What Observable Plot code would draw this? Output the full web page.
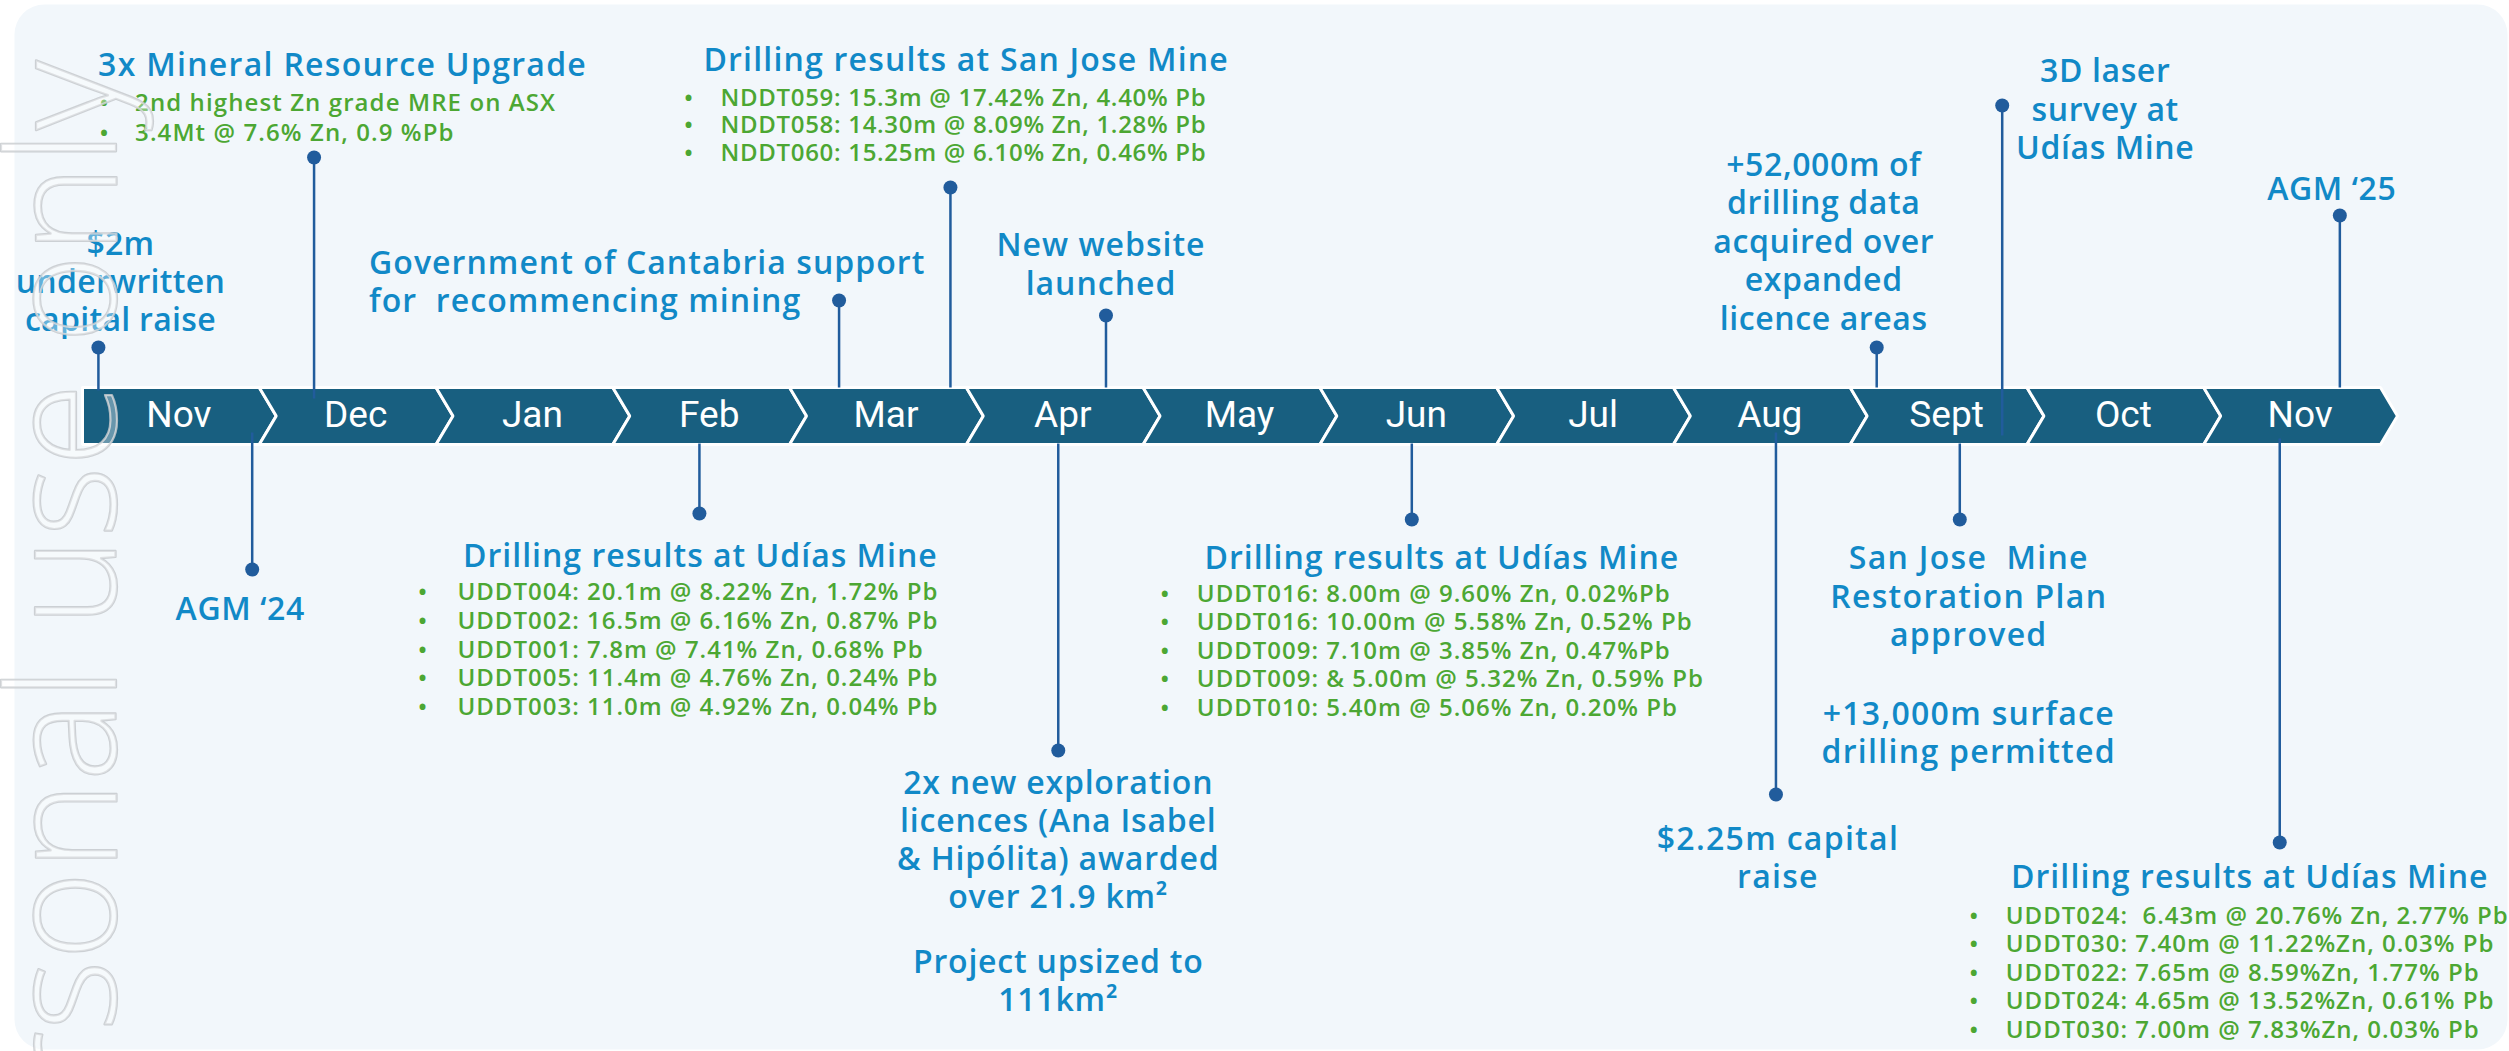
<!DOCTYPE html>
<html><head><meta charset="utf-8">
<script src="https://cdn.jsdelivr.net/npm/d3@7"></script>
<script src="https://cdn.jsdelivr.net/npm/@observablehq/plot@0.6"></script>
<style>
html,body{margin:0;padding:0;background:#fff;}
svg text{white-space:pre;}
</style>
</head><body><div id="chart"></div>
<script>
// ---------- data ----------
const months = ["Nov","Dec","Jan","Feb","Mar","Apr","May","Jun","Jul","Aug","Sept","Oct","Nov"];

// events: position on the timeline (month index, fractional) and stem level (above + / below -)
const eventName  = ["$2m raise","3x MRE","AGM 24","Cantabria support","Udías drilling Feb","San Jose drilling","New website","New licences","Udías drilling Jun","$2.25m raise","+52,000m data","Restoration plan","3D laser survey","Udías drilling Nov","AGM 25"];
const eventMonth = [-0.41, 0.81, 0.46, 3.78, 2.99, 4.41, 5.29, 5.02, 7.02, 9.08, 9.65, 10.12, 10.36, 11.93, 12.27];
const eventLevel = [68.5, 258.5, -153.5, 115.5, -97.5, 228.5, 100.5, -334.5, -103.5, -378.5, 68.5, -103.5, 310.5, -426.5, 200.5];
const eventStemBase = [25, 17, -17, 28, -28, 28, 28, -28, -28, -17, 28, -28, -20, -23, 28];

// label texts
const labelEvent = [0,1,1,2,3,4,4,5,5,6,7,7,8,8,9,10,11,11,12,13,13,14];
const labelKind  = ["t","t","b","t","t","t","b","t","b","t","t","t","t","b","t","t","t","t","t","t","b","t"];
const labelLines = [
  ["$2m","underwritten","capital raise"],
  ["3x Mineral Resource Upgrade"],
  ["2nd highest Zn grade MRE on ASX","3.4Mt @ 7.6% Zn, 0.9 %Pb"],
  ["AGM \u201824"],
  ["Government of Cantabria support","for  recommencing mining"],
  ["Drilling results at Udías Mine"],
  ["UDDT004: 20.1m @ 8.22% Zn, 1.72% Pb","UDDT002: 16.5m @ 6.16% Zn, 0.87% Pb","UDDT001: 7.8m @ 7.41% Zn, 0.68% Pb","UDDT005: 11.4m @ 4.76% Zn, 0.24% Pb","UDDT003: 11.0m @ 4.92% Zn, 0.04% Pb"],
  ["Drilling results at San Jose Mine"],
  ["NDDT059: 15.3m @ 17.42% Zn, 4.40% Pb","NDDT058: 14.30m @ 8.09% Zn, 1.28% Pb","NDDT060: 15.25m @ 6.10% Zn, 0.46% Pb"],
  ["New website","launched"],
  ["2x new exploration","licences (Ana Isabel","& Hipólita) awarded","over 21.9 km\u00B2"],
  ["Project upsized to","111km\u00B2"],
  ["Drilling results at Udías Mine"],
  ["UDDT016: 8.00m @ 9.60% Zn, 0.02%Pb","UDDT016: 10.00m @ 5.58% Zn, 0.52% Pb","UDDT009: 7.10m @ 3.85% Zn, 0.47%Pb","UDDT009: & 5.00m @ 5.32% Zn, 0.59% Pb","UDDT010: 5.40m @ 5.06% Zn, 0.20% Pb"],
  ["$2.25m capital","raise"],
  ["+52,000m of","drilling data","acquired over","expanded","licence areas"],
  ["San Jose  Mine","Restoration Plan","approved"],
  ["+13,000m surface","drilling permitted"],
  ["3D laser","survey at","Udías Mine"],
  ["Drilling results at Udías Mine"],
  ["UDDT024:  6.43m @ 20.76% Zn, 2.77% Pb","UDDT030: 7.40m @ 11.22%Zn, 0.03% Pb","UDDT022: 7.65m @ 8.59%Zn, 1.77% Pb","UDDT024: 4.65m @ 13.52%Zn, 0.61% Pb","UDDT030: 7.00m @ 7.83%Zn, 0.03% Pb"],
  ["AGM \u201825"]
];
const watermark = "For personal use only";

// ---------- layout / style (label offsets relative to each event's dot, in px) ----------
// [anchor, dx, dy, lineHeightPx, letterSpacing, fontSize, bulletDx]
const labelLayout = [
  ["middle", 22, -67, 38, 0.3, 32],
  ["start", -216, -94, 38, 1.3, 32],
  ["start", -179, -41, 30, 1.1, 24, -210],
  ["middle", -12, 38, 38, 0.6, 32],
  ["start", -470, -20, 38, 1.05, 32],
  ["middle", 1, 41, 38, 1.0, 32],
  ["start", -242, 135, 28.75, 1.0, 24, -277],
  ["start", -247, -129, 38, 1.2, 32],
  ["start", -230, -63, 27.5, 0.7, 24, -262],
  ["middle", -5, -52.5, 39, 1, 32],
  ["middle", 0, 88, 38, 0.8, 32],
  ["middle", 0, 229, 38, 0.8, 32],
  ["middle", 30, 37, 38, 1.0, 32],
  ["start", -215, 130, 28.5, 1.0, 24, -247],
  ["middle", 2, 62, 38, 1.3, 32],
  ["middle", -53, -107, 38.5, 0.6, 32],
  ["middle", 9, 76, 38.5, 1.3, 32],
  ["middle", 9, 212, 38, 1.3, 32],
  ["middle", 103, 3, 38.5, 0.6, 32],
  ["middle", -30, 33, 38, 1.1, 32],
  ["start", -274, 129, 28.5, 1.0, 24, -306],
  ["middle", -8, -28, 38, 0.6, 32]
];

const BAND = "#185f80", STEM = "#215c9c", BLUE = "#1189c7", GREEN = "#4ca733";
const FONT = "Open Sans";
const bandHalf = 28.5, notch = 0.096;

// band segment outlines generated from the month list
const bandRows = [];
months.forEach((m, i) => {
  const L = i - 0.5, R = i + 0.5;
  const pts = i === 0
    ? [[L, bandHalf], [R, bandHalf], [R + notch, 0], [R, -bandHalf], [L, -bandHalf], [L, bandHalf]]
    : [[L, bandHalf], [R, bandHalf], [R + notch, 0], [R, -bandHalf], [L, -bandHalf], [L + notch, 0], [L, bandHalf]];
  pts.forEach(([x, y]) => bandRows.push({seg: i, x, y}));
});

const evIdx = eventMonth.map((_, i) => i);
const marks = [];
const textLS = [];

marks.push(Plot.frame({fill: "#f2f7fb", stroke: null, rx: 30, insetLeft: 14, insetTop: 4, insetRight: 2, insetBottom: 2}));
marks.push(Plot.line(bandRows, {x: "x", y: "y", z: "seg", fill: BAND, stroke: "white", strokeWidth: 3, strokeLinejoin: "miter", curve: "linear"}));
marks.push(Plot.text(months, {x: (d, i) => i, y: 0, text: d => d, dx: 8, dy: -1, fill: "white", fontSize: 37, fontFamily: "Roboto", lineAnchor: "middle"}));
textLS.push(0);
marks.push(Plot.ruleX(evIdx, {x: i => eventMonth[i], y1: i => eventStemBase[i], y2: i => eventLevel[i], stroke: STEM, strokeWidth: 2.5}));
marks.push(Plot.dot(evIdx, {x: i => eventMonth[i], y: i => eventLevel[i], r: 7, fill: STEM, stroke: null}));

labelLines.forEach((lines, k) => {
  const [anchor, dx, dy, lh, ls, fs, bdx] = labelLayout[k];
  const ev = labelEvent[k];
  const bullet = labelKind[k] === "b";
  const common = {
    x: () => eventMonth[ev], y: () => eventLevel[ev], dy, lineAnchor: "middle",
    lineHeight: lh / fs, fontSize: fs, fontFamily: FONT, fontWeight: 600,
    fill: bullet ? GREEN : BLUE
  };
  marks.push(Plot.text([lines], {...common, text: d => d.join("\n"), dx, textAnchor: anchor}));
  textLS.push(ls);
  if (bullet) {
    marks.push(Plot.text([lines], {...common, text: d => d.map(() => "\u2022").join("\n"), dx: bdx, textAnchor: "middle"}));
    textLS.push(0);
  }
});

marks.push(Plot.text([watermark], {frameAnchor: "top-left", dx: 67, dy: 60, text: d => d, rotate: -90, textAnchor: "end", lineAnchor: "middle", fontSize: 152, fontFamily: FONT, fontWeight: 300, fill: "rgba(255,255,255,0.35)", stroke: "#c6c9cc", strokeWidth: 2.2, strokeOpacity: 0.85}));
textLS.push(0);

const svg = Plot.plot({
  width: 2509, height: 1051,
  marginTop: 0, marginRight: 0, marginBottom: 0, marginLeft: 0,
  x: {type: "linear", domain: [-0.5, 12.5], range: [82, 2380], axis: null},
  y: {type: "linear", domain: [415.5 - 1051, 415.5], range: [1051, 0], axis: null},
  style: {background: "white", overflow: "visible"},
  marks
});
const tg = svg.querySelectorAll(':scope > g[aria-label="text"]');
tg.forEach((g, i) => { if (textLS[i]) g.style.letterSpacing = textLS[i] + "px"; });
document.getElementById("chart").appendChild(svg);
</script>
</body></html>
